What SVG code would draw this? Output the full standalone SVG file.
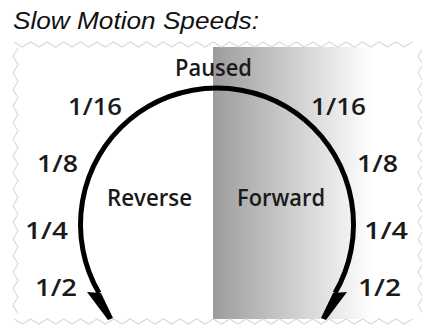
<svg xmlns="http://www.w3.org/2000/svg" width="422" height="328" viewBox="0 0 422 328">
  <style>
    .title { font-family: "Liberation Sans", Arial, sans-serif; font-style: italic; font-size: 23px; fill: #111; }
    .lbl { font-family: "Open Sans", "Noto Sans", sans-serif; font-weight: 600; font-size: 24px; fill: #1a1a1a; }
    .zig { fill: none; stroke: #dadada; stroke-width: 1.1; }
    .arc { fill: none; stroke: #000; stroke-width: 5; }
  </style>
  <defs>
    <linearGradient id="fwdGrad" x1="213" y1="0" x2="372" y2="0" gradientUnits="userSpaceOnUse">
      <stop offset="0" stop-color="#9c9c9c"/>
      <stop offset="1" stop-color="#ffffff"/>
    </linearGradient>
    <polygon id="head" points="87,292 101,293 113,318 108,320"/>
  </defs>
  <rect width="422" height="328" fill="#ffffff"/>

  <text class="title" x="13" y="29" textLength="246" lengthAdjust="spacingAndGlyphs">Slow Motion Speeds:</text>

  <g id="frame">
    <rect id="forward-shade" x="213" y="47" width="160" height="272" fill="url(#fwdGrad)"/>
    <path class="zig" d="M14,42 l8.3,5 l8.3,-5 l8.3,5 l8.3,-5 l8.3,5 l8.3,-5 l8.3,5 l8.3,-5 l8.3,5 l8.3,-5 l8.3,5 l8.3,-5 l8.3,5 l8.3,-5 l8.3,5 l8.3,-5 l8.3,5 l8.3,-5 l8.3,5 l8.3,-5 l8.3,5 l8.3,-5 l8.3,5 l8.3,-5 l8.3,5 l8.3,-5 l8.3,5 l8.3,-5 l8.3,5 l8.3,-5 l8.3,5 l8.3,-5 l8.3,5 l8.3,-5 l8.3,5 l8.3,-5 l8.3,5 l8.3,-5 l8.3,5 l8.3,-5 l8.3,5 l8.3,-5 l8.3,5 l8.3,-5 l8.3,5 l8.3,-5 l8.3,5 l8.3,-5"/>
    <path class="zig" d="M14,319 l8.3,5 l8.3,-5 l8.3,5 l8.3,-5 l8.3,5 l8.3,-5 l8.3,5 l8.3,-5 l8.3,5 l8.3,-5 l8.3,5 l8.3,-5 l8.3,5 l8.3,-5 l8.3,5 l8.3,-5 l8.3,5 l8.3,-5 l8.3,5 l8.3,-5 l8.3,5 l8.3,-5 l8.3,5 l8.3,-5 l8.3,5 l8.3,-5 l8.3,5 l8.3,-5 l8.3,5 l8.3,-5 l8.3,5 l8.3,-5 l8.3,5 l8.3,-5 l8.3,5 l8.3,-5 l8.3,5 l8.3,-5 l8.3,5 l8.3,-5 l8.3,5 l8.3,-5 l8.3,5 l8.3,-5 l8.3,5 l8.3,-5 l8.3,5 l8.3,-5"/>
    <path class="zig" d="M18,48 l-5,8.3 l5,8.3 l-5,8.3 l5,8.3 l-5,8.3 l5,8.3 l-5,8.3 l5,8.3 l-5,8.3 l5,8.3 l-5,8.3 l5,8.3 l-5,8.3 l5,8.3 l-5,8.3 l5,8.3 l-5,8.3 l5,8.3 l-5,8.3 l5,8.3 l-5,8.3 l5,8.3 l-5,8.3 l5,8.3 l-5,8.3 l5,8.3 l-5,8.3 l5,8.3 l-5,8.3 l5,8.3 l-5,8.3 l5,8.3"/>
    <path class="zig" d="M423,48 l-5,8.3 l5,8.3 l-5,8.3 l5,8.3 l-5,8.3 l5,8.3 l-5,8.3 l5,8.3 l-5,8.3 l5,8.3 l-5,8.3 l5,8.3 l-5,8.3 l5,8.3 l-5,8.3 l5,8.3 l-5,8.3 l5,8.3 l-5,8.3 l5,8.3 l-5,8.3 l5,8.3 l-5,8.3 l5,8.3 l-5,8.3 l5,8.3 l-5,8.3 l5,8.3 l-5,8.3 l5,8.3 l-5,8.3 l5,8.3"/>
  </g>

  <g id="dial">
    <path class="arc" d="M99,293 A136.5,136.5 0 1 1 335,293"/>
    <use href="#head"/>
    <use href="#head" transform="translate(434,0) scale(-1,1)"/>
  </g>

  <g id="labels">
    <text id="paused" class="lbl" x="175" y="75.5" textLength="77" lengthAdjust="spacingAndGlyphs">Paused</text>
    <text id="reverse" class="lbl" x="107" y="206" textLength="85" lengthAdjust="spacingAndGlyphs">Reverse</text>
    <text id="forward" class="lbl" x="237" y="206" textLength="88" lengthAdjust="spacingAndGlyphs">Forward</text>
    <text class="lbl" x="68" y="115" textLength="54" lengthAdjust="spacingAndGlyphs">1/16</text>
    <text class="lbl" x="311" y="115" textLength="55" lengthAdjust="spacingAndGlyphs">1/16</text>
    <text class="lbl" x="37" y="171.5" textLength="41" lengthAdjust="spacingAndGlyphs">1/8</text>
    <text class="lbl" x="357" y="171.5" textLength="41" lengthAdjust="spacingAndGlyphs">1/8</text>
    <text class="lbl" x="25" y="239" textLength="43" lengthAdjust="spacingAndGlyphs">1/4</text>
    <text class="lbl" x="364" y="239" textLength="44" lengthAdjust="spacingAndGlyphs">1/4</text>
    <text class="lbl" x="35" y="296" textLength="42" lengthAdjust="spacingAndGlyphs">1/2</text>
    <text class="lbl" x="358" y="296" textLength="43" lengthAdjust="spacingAndGlyphs">1/2</text>
  </g>
</svg>
